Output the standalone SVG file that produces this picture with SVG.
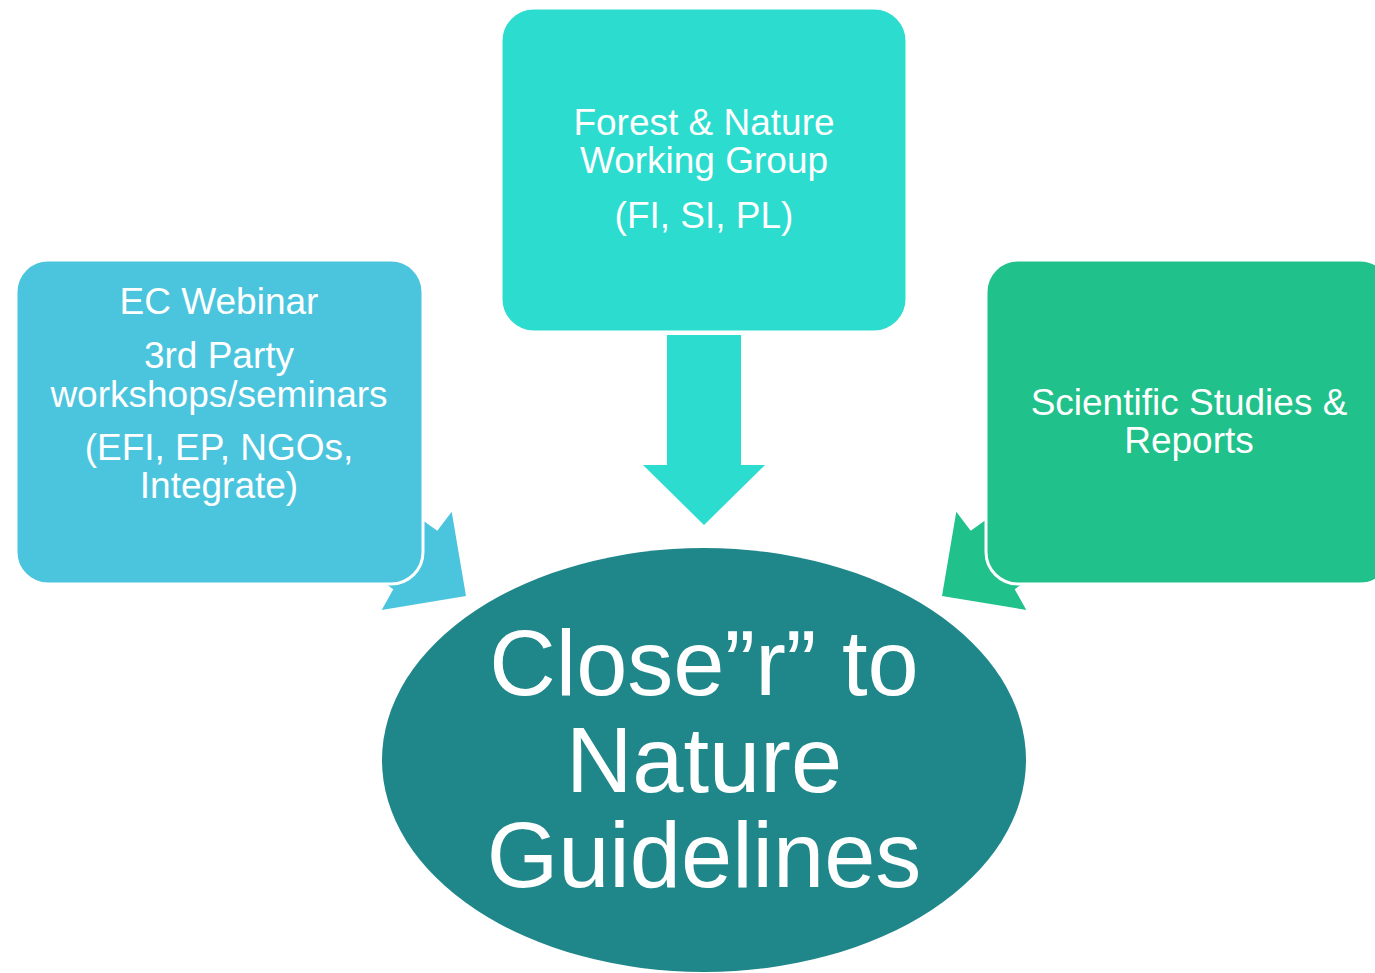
<svg xmlns="http://www.w3.org/2000/svg" width="1375" height="973" viewBox="0 0 1375 973">
<style>
.t{font-family:"Liberation Sans",Arial,sans-serif;fill:#fff;text-anchor:middle}
.s{font-size:37px}
.b{font-size:92px}
.box{stroke:#fff;stroke-width:3}
</style>
<rect width="1375" height="973" fill="#fff"/>
<g id="connectors">
<polygon id="arrow-left" fill="#4BC5DE" points="437.3,530.7 451.7,511.7 466,596 381.7,610 393.3,589.3 295.6,519.6 339.6,461"/>
<polygon id="arrow-right" fill="#20C18A" points="970.7,530.7 956.3,511.7 942,596 1026.3,610 1014.7,589.3 1112.4,519.6 1068.4,461"/>
<polygon id="arrow-mid" fill="#2BDCCF" points="667,335 741,335 741,465 765,465 704,525 643,465 667,465"/>
</g>
<g id="node-webinar">
<rect class="box" x="16" y="260" width="407" height="324" rx="32" fill="#4BC5DE"/>
<text class="t s" x="219" y="314">EC Webinar</text>
<text class="t s" x="219" y="368">3rd Party</text>
<text class="t s" x="219" y="407">workshops/seminars</text>
<text class="t s" x="219" y="460">(EFI, EP, NGOs,</text>
<text class="t s" x="219" y="498">Integrate)</text>
</g>
<g id="node-forest">
<rect class="box" x="501" y="8" width="406" height="324" rx="33" fill="#2BDCCF"/>
<text class="t s" x="704" y="135">Forest &amp; Nature</text>
<text class="t s" x="704" y="173">Working Group</text>
<text class="t s" x="704" y="228">(FI, SI, PL)</text>
</g>
<g id="node-science">
<rect class="box" x="986" y="260" width="406" height="324" rx="32" fill="#20C18A"/>
<text class="t s" x="1189" y="415">Scientific Studies &amp;</text>
<text class="t s" x="1189" y="453">Reports</text>
</g>
<g id="node-guidelines">
<ellipse cx="704" cy="760" rx="322" ry="212" fill="#1F868A"/>
<text class="t b" x="704" y="695">Close”r” to</text>
<text class="t b" x="704" y="792">Nature</text>
<text class="t b" x="704" y="887">Guidelines</text>
</g>
</svg>
